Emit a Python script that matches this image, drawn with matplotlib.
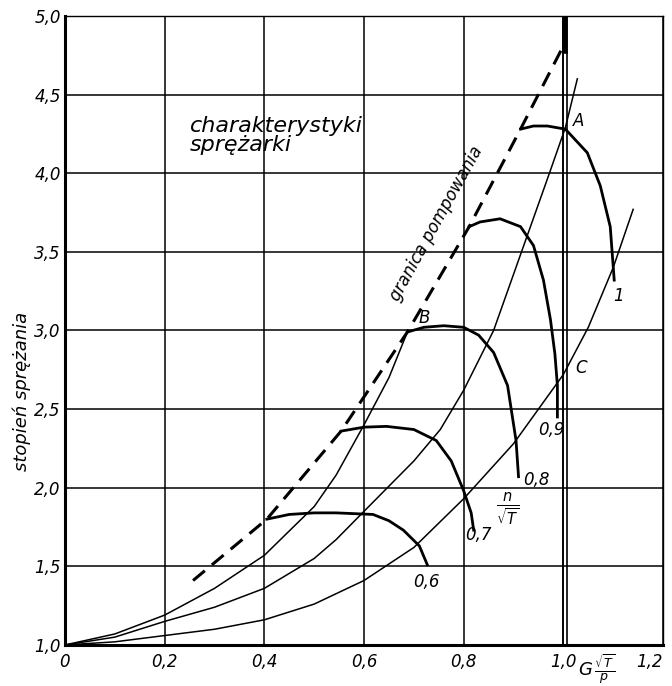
import matplotlib
matplotlib.use("Agg")
import matplotlib.pyplot as plt

# surge limit (dashed)
surge_x = [0.257, 0.405, 0.554, 0.687, 0.811, 0.914, 1.0]
surge_y = [1.41, 1.80, 2.36, 2.99, 3.66, 4.28, 4.81]

# throttle lines from the origin (thin)
l1_x = [0.0, 0.1, 0.2, 0.3, 0.4, 0.5, 0.544, 0.572, 0.6, 0.65, 0.687]
l1_y = [1.0, 1.07, 1.19, 1.36, 1.57, 1.88, 2.08, 2.24, 2.40, 2.70, 2.99]
l2_x = [0.0, 0.1, 0.2, 0.3, 0.4, 0.5, 0.544, 0.6, 0.7, 0.753, 0.8, 0.86, 0.916, 0.972, 1.004, 1.028]
l2_y = [1.0, 1.05, 1.15, 1.24, 1.36, 1.55, 1.67, 1.85, 2.17, 2.37, 2.62, 3.0, 3.5, 4.0, 4.29, 4.6]
l3_x = [0.0, 0.1, 0.2, 0.3, 0.4, 0.5, 0.6, 0.7, 0.8, 0.9, 1.0, 1.05, 1.10, 1.14]
l3_y = [1.0, 1.02, 1.06, 1.10, 1.16, 1.26, 1.41, 1.62, 1.93, 2.28, 2.72, 3.02, 3.40, 3.77]

# constant n/sqrt(T) curves (thick)
n06_x = [0.405, 0.45, 0.50, 0.544, 0.618, 0.65, 0.679, 0.711, 0.727]
n06_y = [1.80, 1.83, 1.84, 1.84, 1.83, 1.79, 1.73, 1.63, 1.51]
n07_x = [0.554, 0.60, 0.645, 0.70, 0.745, 0.775, 0.80, 0.815, 0.82]
n07_y = [2.36, 2.385, 2.39, 2.37, 2.30, 2.17, 1.98, 1.84, 1.73]
n08_x = [0.687, 0.72, 0.76, 0.80, 0.83, 0.86, 0.888, 0.905, 0.91]
n08_y = [2.99, 3.02, 3.03, 3.02, 2.97, 2.86, 2.65, 2.30, 2.07]
n09_x = [0.811, 0.833, 0.873, 0.914, 0.94, 0.96, 0.974, 0.983, 0.988, 0.988]
n09_y = [3.66, 3.69, 3.71, 3.66, 3.54, 3.32, 3.07, 2.85, 2.65, 2.45]
n10_x = [0.914, 0.94, 0.968, 1.004, 1.048, 1.074, 1.094, 1.102]
n10_y = [4.28, 4.30, 4.30, 4.28, 4.13, 3.92, 3.66, 3.32]

xticks = [0, 0.2, 0.4, 0.6, 0.8, 1.0, 1.2]
xlabels = ["0", "0,2", "0,4", "0,6", "0,8", "1,0", "1,2"]
yticks = [1.0, 1.5, 2.0, 2.5, 3.0, 3.5, 4.0, 4.5, 5.0]
ylabels = ["1,0", "1,5", "2,0", "2,5", "3,0", "3,5", "4,0", "4,5", "5,0"]

speed_labels = ["0,6", "0,7", "0,8", "0,9", "1"]
speed_label_pos = [(0.725, 1.40), (0.83, 1.70), (0.945, 2.05), (0.975, 2.37), (1.11, 3.22)]

plt.rcParams["font.family"] = "DejaVu Sans"
plt.rcParams["font.style"] = "italic"

fig = plt.figure(figsize=(6.72, 6.86), dpi=100)
ax = fig.add_axes([0.0967, 0.0598, 0.890, 0.917])
ax.set_xlim(0, 1.2)
ax.set_ylim(1.0, 5.0)

ax.set_xticks(xticks)
ax.set_xticklabels(xlabels)
ax.set_yticks(yticks)
ax.set_yticklabels(ylabels)
ax.tick_params(length=0, labelsize=12)
ax.tick_params(axis="x", pad=6)
ax.tick_params(axis="y", pad=3)
ax.get_xticklabels()[-1].set_horizontalalignment("right")
ax.grid(True, color="black", lw=1.1)
for s in ["left", "bottom"]:
    ax.spines[s].set_linewidth(2.2)
for s in ["top", "right"]:
    ax.spines[s].set_linewidth(1.0)

# double line at 1.0
ax.axvline(1.0, color="black", lw=1.2)
ax.axvline(1.008, color="black", lw=1.2)
ax.plot([1.004, 1.004], [4.78, 5.0], color="black", lw=4)

for lx, ly in [(l1_x, l1_y), (l2_x, l2_y), (l3_x, l3_y)]:
    ax.plot(lx, ly, color="black", lw=1.1)

for cx, cy in [(n06_x, n06_y), (n07_x, n07_y), (n08_x, n08_y), (n09_x, n09_y), (n10_x, n10_y)]:
    ax.plot(cx, cy, color="black", lw=2.0)

ax.plot(surge_x, surge_y, color="black", lw=2.2, dashes=(5, 3))

for t, (px, py) in zip(speed_labels, speed_label_pos):
    ax.text(px, py, t, fontsize=12, ha="center", va="center")

ax.text(1.03, 4.33, "A", fontsize=12, ha="center", va="center")
ax.text(0.72, 3.08, "B", fontsize=12, ha="center", va="center")
ax.text(1.035, 2.76, "C", fontsize=12, ha="center", va="center")

ax.text(0.888, 1.86, r"$\frac{n}{\sqrt{T}}$", fontsize=15, ha="center", va="center")

ax.text(0.25, 4.24, "charakterystyki\nsprężarki", fontsize=16, ha="left",
        va="center", linespacing=0.95)
ax.text(0.745, 3.68, "granica pompowania", fontsize=12, rotation=61,
        rotation_mode="anchor", ha="center", va="center")

fig.text(0.033, 0.43, "stopień sprężania", fontsize=13, rotation=90,
         ha="center", va="center")
fig.text(0.888, 0.024, r"$G\,\frac{\sqrt{T}}{p}$", fontsize=13,
         ha="center", va="center")

fig.savefig("out.png", dpi=100)
